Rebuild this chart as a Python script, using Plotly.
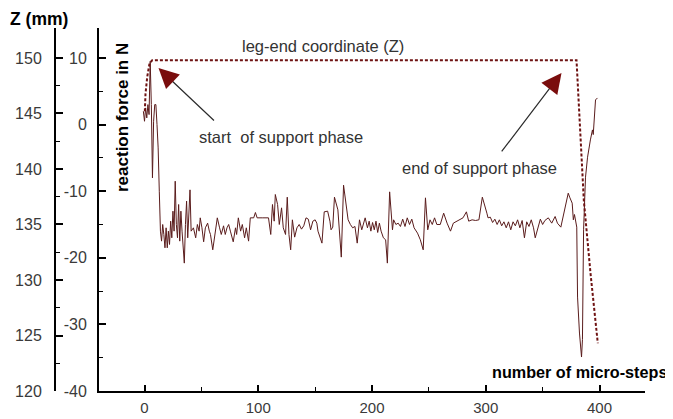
import plotly.graph_objects as go

# page body adds an 8px margin, so the figure is drawn 8px in from the window corner
OFF = 8
W, H = 673 - OFF, 419 - OFF

# reaction force signal (micro-step, force in N)
step = [-1, 0, 1, 2, 3, 4, 5, 6, 7, 8, 9, 10, 11, 12, 13, 14, 15, 16, 17, 18, 19, 20,
        21, 22, 23, 24, 25, 26, 27, 28, 29, 30, 31, 32, 33, 34, 35, 36, 37, 38, 39, 40, 41,
        43, 45, 46.5, 48, 49, 50.5, 52, 53.5, 55.5, 57, 58, 60, 62, 64, 66, 67.5, 69.5, 71,
        72.5, 74, 75.5, 78, 80, 81, 82.5, 84.5, 86, 88, 89.5, 91.5, 93, 96, 97.5, 99, 104,
        107, 109, 111, 112.5, 114, 115, 117, 118.5, 120.5, 122, 124, 125.5, 127,
        128.5, 130, 132, 134, 136, 138, 140, 142, 144, 146, 148, 150, 151.5, 152.5, 156,
        158, 161, 163, 164, 165.5, 167, 170, 173, 175, 176.5, 179, 181, 183, 185, 187, 189,
        191, 194, 196, 197.5, 199, 200.5, 202, 203.5, 205, 206.5, 208, 210,
        212, 213.5, 215.5, 218, 219, 221, 223, 225, 227, 229, 231, 233, 235, 237, 240,
        242.5, 245, 247, 249, 251, 253, 255, 257, 260, 263, 266, 269, 271.5, 275, 280, 283,
        285, 288, 291,
        294, 297, 301, 302, 304, 306, 308, 310, 312, 314, 316, 318, 320, 322, 324, 326, 328,
        330, 332, 334, 336, 338, 340, 342, 343.5, 346, 348, 350, 352, 355, 358, 361, 363, 366,
        368.5, 372.5, 374, 376, 377, 378, 380, 380.7, 382.4, 384.2, 385, 386, 387.7, 389.5,
        392, 393.8, 394.5, 396.5, 398.2]
force = [2.0, 0.5, 2.5, 1.0, 3.0, 1.5, 9.5, 3.0, -8.0, 0.5, 3.0, 3.0, 0.0, -3.5, -10, -16,
         -17.5, -15, -16.5, -18.5, -15.5, -18.5, -16, -18, -14.5, -17, -13, -16, -8.5, -15,
         -17, -12, -17.5, -13, -16, -19, -20.8, -15, -11.5, -17, -13, -9.8, -16,
         -15.5, -17, -15, -16, -14, -15.5, -17.6, -15.5, -14.8, -16, -16.5, -18.8, -16, -14,
         -15.5, -16.5, -15.2, -16.5, -15.5, -15, -16, -17.6, -15.5, -16.5, -14, -16, -15,
         -17, -15.5, -17.5, -14, -14, -13.2, -14, -14, -14, -14, -16.5, -12, -14.5, -10.5,
         -12, -15, -12.5, -15.5, -16.5, -10.9, -16.5,
         -18.8, -14.3, -16.9, -15.5, -15, -15.7, -15.2, -14, -14.2, -15.8, -14.5, -14.3,
         -14.8, -16, -17.8, -13.1, -13, -14.5, -15.8, -15.4, -10.9, -12.8, -19.9, -9.1,
         -11.3, -14.3, -15, -15.5, -15.3, -17.8, -14.3, -15.8, -14, -15.5, -14.5, -16,
         -14.7, -15.8, -14.5, -16.2, -14.8, -16, -17,
         -17.3, -20.8, -10.1, -15.8, -14.3, -15, -14.8, -15.3, -14.2, -15.3, -14, -15,
         -14.2, -15.5, -16.3, -17.3, -18.8, -11, -15.8, -14.3, -15, -14, -15, -15, -13.3,
         -14.8, -16, -14.8, -14.5, -14, -13.1, -14.5, -14.3, -14.4,
         -14.3, -10.9, -13.3, -14, -13.9, -14.7, -14.2, -15, -14.3, -15.2, -14.6, -15.5,
         -14.6, -15.8, -14.6, -15.2, -14.3, -15.5, -14.4, -17, -14.6, -15.3, -14.3, -15.5,
         -17, -15.3, -14.2, -15, -14.4, -14.0, -14.8, -13.8, -14.8, -15.4,
         -13.3, -10.3, -11, -11.8, -14.3, -13.5, -15.4, -25.9, -31.3, -34.9, -32.3, -15.8,
         -7.9, -4.9, -2.3, -0.8, -1.5, 3.7, 4.0]

# leg-end coordinate Z (mm)
z_step = [0.3, 0.9, 2.4, 4.4, 6.8, 379.8, 380.4, 383.3, 386.2, 392.1, 398.5]
z_mm = [145.2, 146.8, 148.3, 149.5, 149.8, 149.8, 148.6, 142.6, 137.2, 130.6, 124.3]

x_ticks = [0, 100, 200, 300, 400]
force_ticks = [10, 0, -10, -20, -30, -40]
force_labels = ["10", "0", "-10", "-20", "-30", "-40"]
z_ticks = [150, 145, 140, 135, 130, 125, 120]

FONT = "Liberation Sans, Arial, sans-serif"
TICKC = "#3a3a3a"


def fx(p):
    """window pixel x -> paper fraction"""
    return (p - OFF) / W


def fy(p):
    """window pixel y (from top) -> paper fraction"""
    return 1 - (p - OFF) / H


fig = go.Figure()
fig.add_trace(go.Scatter(x=step, y=force, mode="lines",
                         line=dict(color="#5a1c1c", width=1), yaxis="y", showlegend=False))
fig.add_trace(go.Scatter(x=z_step, y=z_mm, mode="lines",
                         line=dict(color="#6e1212", width=2, dash="3px,2px"),
                         yaxis="y2", showlegend=False))

fig.update_layout(
    width=W, height=H,
    margin=dict(l=0, r=0, t=0, b=0),
    paper_bgcolor="white", plot_bgcolor="white",
    font=dict(family=FONT, size=16, color=TICKC),
    xaxis=dict(domain=[fx(99), fx(645)], range=[-40, 440], showgrid=False, zeroline=False,
               showline=True, linecolor="black", linewidth=2,
               tickmode="array", tickvals=x_ticks, ticks="inside", ticklen=6, tickwidth=2,
               tickcolor="black", ticklabelstandoff=2,
               minor=dict(tickmode="array", tickvals=[50, 150, 250, 350], ticks="inside",
                          ticklen=4, tickwidth=1, tickcolor="black"),
               tickfont=dict(size=15, color=TICKC), automargin=False),
    yaxis=dict(domain=[fy(391), fy(28)], range=[-40, 14.5], showgrid=False, zeroline=False,
               showline=True, linecolor="black", linewidth=2,
               tickmode="array", tickvals=force_ticks, ticktext=force_labels,
               ticks="inside", ticklen=7, tickwidth=2,
               tickcolor="black", ticklabelstandoff=7,
               minor=dict(tickmode="array", tickvals=[5, -5, -15, -25, -35], ticks="inside",
                          ticklen=4, tickwidth=1, tickcolor="black"),
               tickfont=dict(size=16, color=TICKC), automargin=False),
    yaxis2=dict(overlaying="y", anchor="free", position=fx(55), side="left",
                range=[120, 152.7], showgrid=False, zeroline=False,
                showline=True, linecolor="black", linewidth=2,
                tickmode="array", tickvals=z_ticks, ticks="inside", ticklen=7, tickwidth=2,
                tickcolor="black", ticklabelstandoff=9,
                minor=dict(tickmode="array", tickvals=[147.5, 142.5, 137.5, 132.5, 127.5, 122.5],
                           ticks="inside", ticklen=4, tickwidth=1, tickcolor="black"),
                tickfont=dict(size=16, color=TICKC), automargin=False),
)

ann = []
ann.append(dict(text="<b>Z (mm)</b>", x=fx(8), y=fy(19), xref="paper", yref="paper",
                xanchor="left", yanchor="middle", showarrow=False,
                font=dict(size=17.5, color="black", family=FONT)))
ann.append(dict(text="<b>reaction force in N</b>", x=fx(122), y=fy(118), xref="paper",
                yref="paper", xanchor="center", yanchor="middle", textangle=-90,
                showarrow=False, font=dict(size=17, color="black", family=FONT)))
ann.append(dict(text="leg-end coordinate (Z)", x=fx(323), y=fy(46), xref="paper",
                yref="paper", xanchor="center", yanchor="middle", showarrow=False,
                font=dict(size=16.5, color="#333333", family=FONT)))
ann.append(dict(text="start  of support phase", x=fx(197), y=fy(137), xref="paper",
                yref="paper", xanchor="left", yanchor="middle", showarrow=False,
                font=dict(size=16.5, color="#333333", family=FONT)))
ann.append(dict(text="end of support phase", x=fx(400), y=fy(168), xref="paper",
                yref="paper", xanchor="left", yanchor="middle", showarrow=False,
                font=dict(size=16.5, color="#333333", family=FONT)))
ann.append(dict(text="<b>number of micro-steps</b>", x=fx(669), y=fy(372), xref="paper",
                yref="paper", xanchor="right", yanchor="middle", showarrow=False,
                font=dict(size=16.2, color="black", family=FONT)))

# arrows: thin dark line + big dark-red head
arrows = [((62.4, 0.4), (23.1, 6.74), (12.3, 8.5)),
          ((313.0, -4.26), (357.5, 5.72), (366.6, 7.75))]
for tail, base, tip in arrows:
    ann.append(dict(x=base[0], y=base[1], ax=tail[0], ay=tail[1], xref="x", yref="y",
                    axref="x", ayref="y", text="", showarrow=True, arrowhead=0,
                    arrowwidth=1.2, arrowcolor="#2b2b2b"))
    ann.append(dict(x=tip[0], y=tip[1], ax=base[0], ay=base[1], xref="x", yref="y",
                    axref="x", ayref="y", text="", showarrow=True, arrowhead=2,
                    arrowsize=1.6, arrowwidth=2.5, arrowcolor="#7a0d0d"))
fig.update_layout(annotations=ann)

fig.write_html("out.html")
